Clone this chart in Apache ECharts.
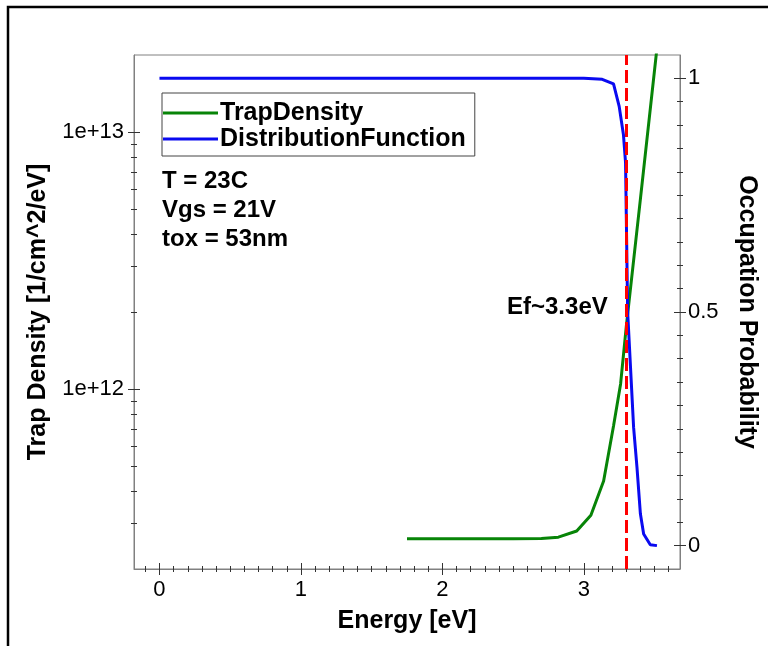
<!DOCTYPE html>
<html><head><meta charset="utf-8">
<script src="https://cdn.jsdelivr.net/npm/echarts@6/dist/echarts.min.js"></script>
<style>html,body{margin:0;padding:0;background:#fff}#c{width:768px;height:646px}</style>
</head><body><div id="c"></div>
<script>
// ---- data ----
const trapEnergy  = [1.75, 2.0, 2.25, 2.5, 2.7, 2.82, 2.95, 3.05, 3.14, 3.21, 3.26, 3.3, 3.4, 3.52];
const trapDensity = [2.62e11, 2.62e11, 2.62e11, 2.62e11, 2.63e11, 2.66e11, 2.81e11, 3.24e11, 4.4e11, 7.2e11, 1.05e12, 1.75e12, 5.5e12, 2.2e13];
const distEnergy  = [0, 0.5, 1, 1.5, 2, 2.5, 3, 3.13, 3.21, 3.25, 3.28, 3.295, 3.31, 3.352, 3.376, 3.4, 3.423, 3.47, 3.517];
const distValue   = [1, 1, 1, 1, 1, 1, 1, 0.998, 0.988, 0.94, 0.88, 0.82, 0.5, 0.253, 0.167, 0.068, 0.025, 0.002, 0];
const fermiLevel  = 3.3;
const xMajorTicks = [0, 1, 2, 3];
const xMinorTicks = [-0.1, 0.1, 0.2, 0.3, 0.4, 0.5, 0.6, 0.7, 0.8, 0.9, 1.1, 1.2, 1.3, 1.4, 1.5, 1.6, 1.7, 1.8, 1.9,
                     2.1, 2.2, 2.3, 2.4, 2.5, 2.6, 2.7, 2.8, 2.9, 3.1, 3.2, 3.3, 3.4, 3.5, 3.6];
const yLeftMajorTicks = [1e12, 1e13];
const yLeftMinorTicks = [3e11, 4e11, 5e11, 6e11, 7e11, 8e11, 9e11, 2e12, 3e12, 4e12, 5e12, 6e12, 7e12, 8e12, 9e12];
const yRightMajorTicks = [0, 0.5, 1];
const yRightMinorTicks = [0.05, 0.1, 0.15, 0.2, 0.25, 0.3, 0.35, 0.4, 0.45, 0.55, 0.6, 0.65, 0.7, 0.75, 0.8, 0.85, 0.9, 0.95];
const infoLines = ['T = 23C', 'Vgs = 21V', 'tox = 53nm'];
const efLabel = 'Ef~3.3eV';

// ---- chart ----
const FONT = 'Liberation Sans, Arial, sans-serif';
const AX = '#808080';
const TK = '#333';
const X_MIN = -0.18, X_MAX = 3.68, YL_MIN = 2e11, YL_MAX = 2e13, YR_MIN = -0.05, YR_MAX = 1.05;

function helperAxis(base, ticks, len, inside) {
  return Object.assign({}, base, {
    name: '', axisLine: {show: false, onZero: false}, axisLabel: {show: false}, splitLine: {show: false},
    axisTick: {show: true, inside: inside, length: len, customValues: ticks, lineStyle: {color: TK, width: 1}}
  });
}
const xBase = {type: 'value', min: X_MIN, max: X_MAX, position: 'bottom', gridIndex: 0};
const ylBase = {type: 'log', logBase: 10, min: YL_MIN, max: YL_MAX, position: 'left', gridIndex: 0};
const yrBase = {type: 'value', min: YR_MIN, max: YR_MAX, position: 'right', gridIndex: 0};

const chart = echarts.init(document.getElementById('c'), null, {renderer: 'canvas'});
chart.setOption({
  backgroundColor: '#fff',
  animation: false,
  grid: {left: 134, right: 88, top: 55, bottom: 77, show: true, borderColor: AX, borderWidth: 1,
         containLabel: false, outerBoundsMode: 'none'},
  legend: {
    orient: 'vertical', left: 162, top: 93, itemWidth: 55, itemHeight: 3, itemGap: 0,
    icon: 'rect', padding: [7, 9, 4, 1],
    borderColor: '#444', borderWidth: 1, backgroundColor: '#fff',
    textStyle: {fontFamily: FONT, fontWeight: 'bold', fontSize: 25, color: '#000', lineHeight: 26, padding: [0, 0, 0, -3]},
    data: ['TrapDensity', 'DistributionFunction']
  },
  xAxis: [
    Object.assign({}, xBase, {
      name: 'Energy [eV]', nameLocation: 'middle', nameGap: 40, nameMoveOverlap: false,
      nameTextStyle: {fontFamily: FONT, fontWeight: 'bold', fontSize: 25, color: '#000'},
      axisLine: {show: true, onZero: false, lineStyle: {color: AX, width: 1}},
      axisTick: {show: true, length: 6, customValues: xMajorTicks, lineStyle: {color: TK}},
      axisLabel: {customValues: xMajorTicks, fontFamily: FONT, fontSize: 22, color: '#000', margin: 10},
      splitLine: {show: false}
    }),
    helperAxis(xBase, xMajorTicks, 6, true),
    helperAxis(xBase, xMinorTicks, 3, false),
    helperAxis(xBase, xMinorTicks, 3, true)
  ],
  yAxis: [
    Object.assign({}, ylBase, {
      name: 'Trap Density [1/cm^2/eV]', nameLocation: 'middle', nameGap: 83, nameMoveOverlap: false,
      nameTextStyle: {fontFamily: FONT, fontWeight: 'bold', fontSize: 25, color: '#000'},
      axisLine: {show: true, onZero: false, lineStyle: {color: AX, width: 1}},
      axisTick: {show: true, length: 6, customValues: yLeftMajorTicks, lineStyle: {color: TK}},
      axisLabel: {customValues: yLeftMajorTicks, fontFamily: FONT, fontSize: 22, color: '#000', margin: 10,
                  formatter: v => Number(v).toExponential(0)},
      splitLine: {show: false}
    }),
    helperAxis(ylBase, yLeftMajorTicks, 6, true),
    helperAxis(ylBase, yLeftMinorTicks, 3, false),
    helperAxis(ylBase, yLeftMinorTicks, 3, true),
    Object.assign({}, yrBase, {
      name: 'Occupation Probability', nameLocation: 'middle', nameGap: 54, nameRotate: -90, nameMoveOverlap: false,
      nameTextStyle: {fontFamily: FONT, fontWeight: 'bold', fontSize: 25, color: '#000'},
      axisLine: {show: true, onZero: false, lineStyle: {color: AX, width: 1}},
      axisTick: {show: true, length: 6, customValues: yRightMajorTicks, lineStyle: {color: TK}},
      axisLabel: {customValues: yRightMajorTicks, fontFamily: FONT, fontSize: 22, color: '#000', margin: 8,
                  formatter: v => String(v)},
      splitLine: {show: false}
    }),
    helperAxis(yrBase, yRightMajorTicks, 6, true),
    helperAxis(yrBase, yRightMinorTicks, 3, false),
    helperAxis(yrBase, yRightMinorTicks, 3, true)
  ],
  series: [
    {
      name: 'TrapDensity', type: 'line', xAxisIndex: 0, yAxisIndex: 0, clip: true,
      showSymbol: false, symbol: 'none', color: '#078407',
      lineStyle: {width: 3, color: '#078407'},
      data: trapEnergy.map((e, i) => [e, trapDensity[i]]),
      z: 3
    },
    {
      name: 'DistributionFunction', type: 'line', xAxisIndex: 0, yAxisIndex: 4, clip: true,
      showSymbol: false, symbol: 'none', color: '#0a0af0',
      lineStyle: {width: 3, color: '#0a0af0'},
      data: distEnergy.map((e, i) => [e, distValue[i]]),
      markLine: {
        silent: true, symbol: 'none', label: {show: false},
        lineStyle: {color: '#ff0000', width: 3, type: [13, 5]},
        data: [{xAxis: fermiLevel}]
      },
      z: 4
    }
  ],
  graphic: [
    {type: 'rect', shape: {x: 8, y: 7, width: 800, height: 700}, style: {fill: 'none', stroke: '#000', lineWidth: 2.5}, silent: true},
    {type: 'text', x: 162, y: 181, style: {text: infoLines[0], font: 'bold 24px ' + FONT, fill: '#000', verticalAlign: 'middle'}},
    {type: 'text', x: 162, y: 210, style: {text: infoLines[1], font: 'bold 24px ' + FONT, fill: '#000', verticalAlign: 'middle'}},
    {type: 'text', x: 162, y: 239, style: {text: infoLines[2], font: 'bold 24px ' + FONT, fill: '#000', verticalAlign: 'middle'}},
    {type: 'text', x: 507, y: 307, style: {text: efLabel, font: 'bold 24px ' + FONT, fill: '#000', verticalAlign: 'middle'}}
  ]
});
</script></body></html>
